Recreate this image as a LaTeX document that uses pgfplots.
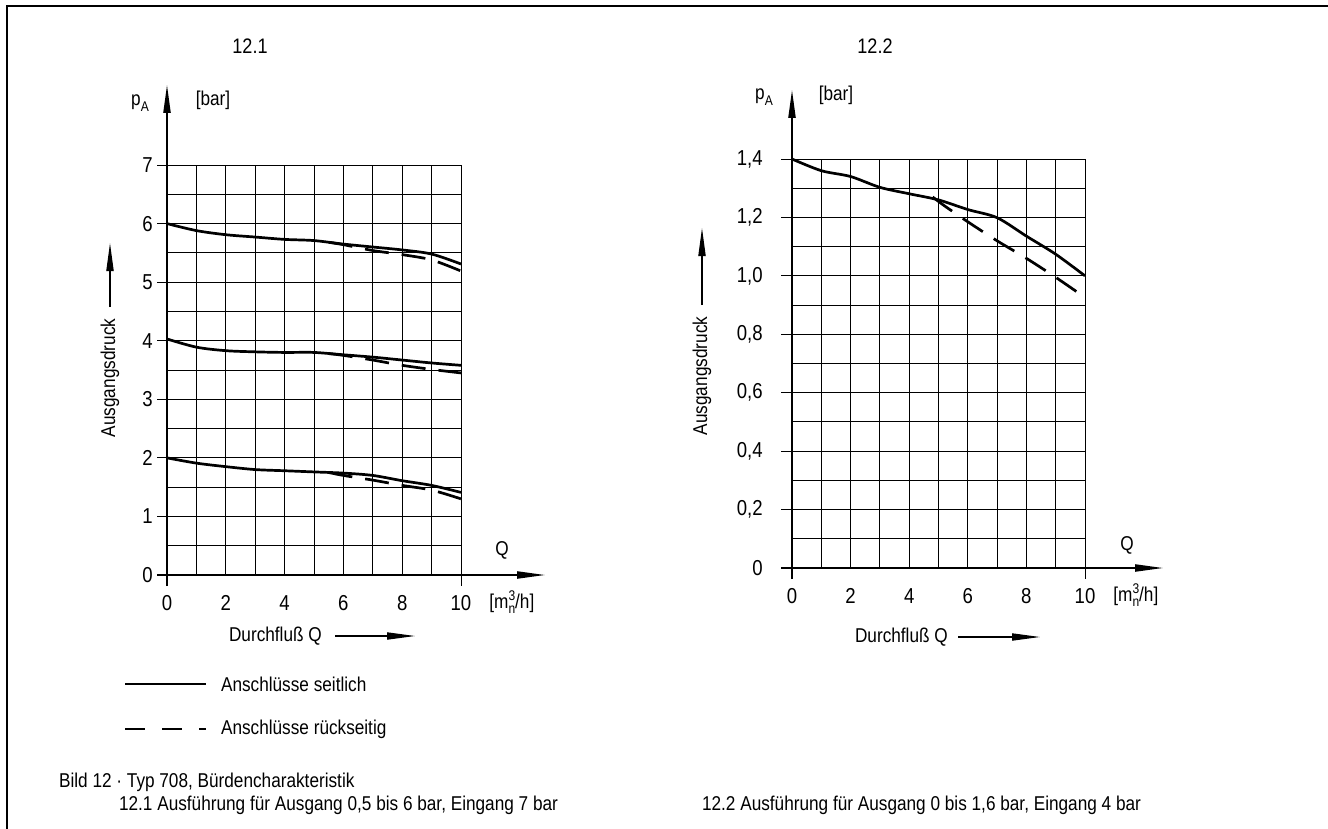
\documentclass[border=0pt]{standalone}
\usepackage{pgfplots}
\pgfplotsset{compat=1.18}
\usepackage{fontspec}
\setmainfont{Liberation Sans}[FakeStretch=0.86]
\usetikzlibrary{arrows.meta}

\newcommand{\sz}{\fontsize{10}{12}\selectfont}
\newcommand{\tsz}{\fontsize{10.8}{12}\selectfont}
\newcommand{\pA}{p\raisebox{-0.6ex}{\fontsize{7}{8}\selectfont A}}
\newcommand{\munit}{[m\rlap{\raisebox{0.8ex}{\fontsize{7}{8}\selectfont 3}}\raisebox{-0.45ex}{\fontsize{7}{8}\selectfont n}/h]}

\pgfplotsset{
  chart/.style={
    scale only axis, anchor=south west, clip=false,
    xmin=0, xmax=10, ymin=0,
    axis line style={draw=none},
    xtick={0,1,2,3,4,5,6,7,8,9,10},
    xticklabels={0,,2,,4,,6,,8,,10},
    grid=major, major grid style={black, line width=0.45pt},
    major tick length=0pt, tick style={draw=none},
    ticklabel style={font=\tsz, inner sep=0pt},
    xticklabel style={anchor=center, yshift=-14pt},
    yticklabel style={anchor=east, xshift=-7pt},
  },
  curve/.style={black, line width=1.35pt, smooth},
  dcurve/.style={black, line width=1.35pt, smooth, dash pattern=on 12pt off 6.5pt},
}

\begin{document}
\begin{tikzpicture}
% left chart
\begin{axis}[chart, at={(83.5pt,-287.5pt)}, width=147pt, height=205pt,
  ymax=7, ytick={0,0.5,1,1.5,2,2.5,3,3.5,4,4.5,5,5.5,6,6.5,7},
  yticklabels={0,,1,,2,,3,,4,,5,,6,,7}]
\addplot[curve] coordinates {(0,6.00)(1,5.88)(2,5.81)(3,5.77)(4,5.73)(5,5.71)(6,5.65)(7,5.60)(8,5.55)(9,5.48)(10,5.31)};
\addplot[dcurve] coordinates {(5.5,5.68)(6,5.64)(7,5.54)(8,5.47)(9,5.38)(10,5.19)};
\addplot[curve] coordinates {(0,4.03)(1,3.89)(2,3.83)(3,3.81)(4,3.80)(5,3.80)(6,3.76)(7,3.72)(8,3.67)(9,3.62)(10,3.58)};
\addplot[dcurve] coordinates {(5.5,3.78)(6,3.75)(7,3.67)(8,3.58)(9,3.51)(10,3.45)};
\addplot[curve] coordinates {(0,2.00)(1,1.91)(2,1.85)(3,1.80)(4,1.78)(5,1.76)(6,1.74)(7,1.70)(8,1.61)(9,1.53)(10,1.41)};
\addplot[dcurve] coordinates {(5.5,1.75)(6,1.70)(7,1.62)(8,1.53)(9,1.45)(10,1.30)};
\end{axis}
% right chart
\begin{axis}[chart, at={(396pt,-284pt)}, width=146.5pt, height=204.5pt,
  ymax=1.4, ytick={0,0.1,0.2,0.3,0.4,0.5,0.6,0.7,0.8,0.9,1.0,1.1,1.2,1.3,1.4},
  yticklabels={0,,{0,2},,{0,4},,{0,6},,{0,8},,{1,0},,{1,2},,{1,4}},
  yticklabel style={xshift=-7.5pt}]
\addplot[curve] coordinates {(0,1.40)(1,1.36)(2,1.34)(3,1.303)(4,1.281)(5,1.26)(6,1.227)(7,1.199)(8,1.136)(9,1.074)(10,1.00)};
\addplot[dcurve] coordinates {(4.8,1.27)(5.2,1.24)(6,1.185)(7,1.12)(8,1.06)(9,0.995)(10,0.926)};
\end{axis}

\begin{scope}[x=0.5pt, y=-0.5pt, font=\sz]
\useasboundingbox (0,0) rectangle (1328,829);
% frame
\draw[line width=1.1pt] (7,829) -- (7,6) -- (1328,6);
% left axes
\draw[line width=0.75pt, -{Triangle[length=14pt,width=3.6pt]}] (157,575) -- (545,575);
\draw[line width=0.75pt, -{Triangle[length=14pt,width=3.6pt]}] (167,586) -- (167,85);
\foreach \p in {165,223.6,282.1,340.7,399.3,457.9,516.4} \draw[line width=0.45pt] (157,\p) -- (167,\p);
\draw[line width=0.45pt] (461,575) -- (461,586);
\node at (250,46) {\fontsize{10.5}{12}\selectfont 12.1};
\node at (140,103) {\pA};
\node at (213,100) {[bar]};
\node at (502,550) {Q};
\node[anchor=west, inner sep=0pt] at (489,602) {\munit};
\node[anchor=west] at (222,636) {Durchfluß Q};
\draw[line width=0.6pt, -{Triangle[length=14pt,width=3.6pt]}] (335,636) -- (415,636);
\node[rotate=90] at (110,378) {Ausgangsdruck};
\draw[line width=0.6pt, -{Triangle[length=14pt,width=3.6pt]}] (110,307) -- (110,243);
% right axes
\draw[line width=0.75pt, -{Triangle[length=14pt,width=3.6pt]}] (781,568) -- (1163,568);
\draw[line width=0.75pt, -{Triangle[length=14pt,width=3.6pt]}] (792,579) -- (792,90);
\foreach \p in {159,217.4,275.9,334.3,392.7,451.1,509.6,568} \draw[line width=0.45pt] (781,\p) -- (792,\p);
\draw[line width=0.45pt] (1085,568) -- (1085,579);
\node at (875,46) {\fontsize{10.5}{12}\selectfont 12.2};
\node at (764,97) {\pA};
\node at (836,95) {[bar]};
\node at (1127,545) {Q};
\node[anchor=west, inner sep=0pt] at (1113,595) {\munit};
\node[anchor=west] at (848,637) {Durchfluß Q};
\draw[line width=0.6pt, -{Triangle[length=14pt,width=3.6pt]}] (958,637) -- (1040,637);
\node[rotate=90] at (702,376) {Ausgangsdruck};
\draw[line width=0.6pt, -{Triangle[length=14pt,width=3.6pt]}] (702,305) -- (702,228);
% legend
\draw[line width=1.3pt] (125,684) -- (206,684);
\node[anchor=west] at (214,684) {Anschlüsse seitlich};
\draw[line width=1.3pt, dash pattern=on 10pt off 8.5pt] (125,729) -- (206,729);
\node[anchor=west] at (214,729) {Anschlüsse rückseitig};
% caption
\node[anchor=west] at (52,782) {Bild 12 · Typ 708, Bürdencharakteristik};
\node[anchor=west] at (112,805) {12.1 Ausführung für Ausgang 0,5 bis 6 bar, Eingang 7 bar};
\node[anchor=west] at (695,805) {12.2 Ausführung für Ausgang 0 bis 1,6 bar, Eingang 4 bar};
\end{scope}
\end{tikzpicture}
\end{document}
